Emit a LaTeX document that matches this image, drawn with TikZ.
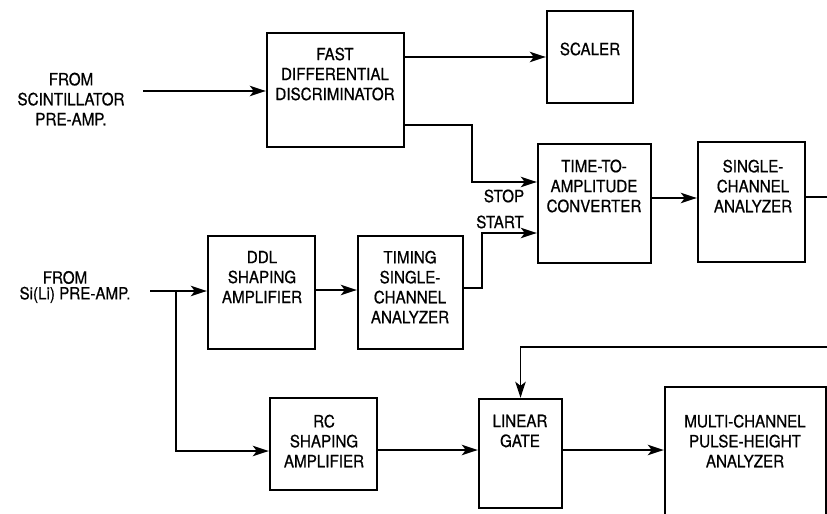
\documentclass[tikz,border=0pt]{standalone}
\usepackage{fontspec}
\setmainfont[FakeStretch=0.9,FakeBold=0.6]{TeX Gyre Heros}
\usepackage{tikz}
\usetikzlibrary{arrows.meta}
\tikzset{
  egyseg/.style={draw,line width=1.7pt,inner sep=0pt},
  szoveg/.style={align=center,inner sep=0pt},
  nyil/.style={-{Stealth[length=4mm,width=2.6mm,inset=1mm]},line width=1.3pt},
  vonal/.style={line width=1.3pt},
}

\begin{document}
\begin{tikzpicture}[font=\fontsize{12}{14.2}\selectfont]
  \clip (0,0) rectangle (20.675,-12.85);
  % boxes
  \node[egyseg,minimum width=3.425cm,minimum height=2.85cm] (fdd) at (8.3875,-2.25) {};
  \node[egyseg,minimum width=2.15cm,minimum height=2.3cm] (scaler) at (14.75,-1.425) {};
  \node[egyseg,minimum width=2.825cm,minimum height=2.975cm] (tac) at (14.8625,-5.0875) {};
  \node[egyseg,minimum width=2.675cm,minimum height=3.0cm] (sca) at (18.7875,-5.05) {};
  \node[egyseg,minimum width=2.675cm,minimum height=2.825cm] (ddl) at (6.5375,-7.3125) {};
  \node[egyseg,minimum width=2.625cm,minimum height=2.825cm] (tsca) at (10.2625,-7.3125) {};
  \node[egyseg,minimum width=2.675cm,minimum height=2.3cm] (rc) at (8.0875,-11.1) {};
  \node[egyseg,minimum width=2.075cm,minimum height=2.725cm] (gate) at (13.0125,-11.3375) {};
  \node[egyseg,minimum width=4.025cm,minimum height=4.0cm] (mca) at (18.6375,-11.675) {};
  % texts
  \node[szoveg] (fddt) at (8.375,-1.85) {FAST\\DIFFERENTIAL\\DISCRIMINATOR};
  \node[szoveg] (scalert) at (14.75,-1.225) {SCALER};
  \node[szoveg] (tact) at (14.85,-4.65) {TIME-TO-\\AMPLITUDE\\CONVERTER};
  \node[szoveg] (scat) at (18.825,-4.65) {SINGLE-\\CHANNEL\\ANALYZER};
  \node[szoveg] (ddlt) at (6.55,-6.925) {DDL\\SHAPING\\AMPLIFIER};
  \node[szoveg] (tscat) at (10.25,-7.175) {TIMING\\SINGLE-\\CHANNEL\\ANALYZER};
  \node[szoveg] (rct) at (8.1,-11.025) {RC\\SHAPING\\AMPLIFIER};
  \node[szoveg] (gatet) at (13.0,-10.775) {LINEAR\\GATE};
  \node[szoveg] (mcat) at (18.625,-11.025) {MULTI-CHANNEL\\PULSE-HEIGHT\\ANALYZER};
  \node[szoveg] (scint) at (1.775,-2.475) {FROM\\SCINTILLATOR\\PRE-AMP.};
  \node[szoveg] (sili) at (1.875,-7.175) {FROM\hspace*{0.5cm}\\[-3pt]Si(Li) PRE-AMP.};
  \node[szoveg] (stop) at (12.6,-4.9) {STOP};
  \node[szoveg] (start) at (12.5,-5.55) {START};
  % connectors
  \coordinate (scin) at (3.575,-2.275);
  \coordinate (siin) at (3.75,-7.275);
  \coordinate (elag) at (4.4,-7.275);
  \coordinate (ki) at (20.7,-4.925);
  \coordinate (vissza) at (20.7,-8.675);
  \draw[nyil] (scin) -- (scin -| fdd.west);
  \draw[nyil] (fdd.east |- scaler.west) -- (scaler.west);
  \draw[nyil] (fdd.east |- 0,-3.125) -- (11.8,-3.125) |- (tac.west |- 0,-4.55);
  \draw[nyil] (tsca.east |- 0,-7.2) -- (12.05,-7.2) |- (tac.west |- 0,-5.825);
  \draw[nyil] (tac.east |- 0,-4.95) -- (sca.west |- 0,-4.95);
  \draw[vonal] (sca.east |- ki) -- (ki);
  \draw[nyil] (siin) -- (siin -| ddl.west);
  \draw[nyil] (elag) |- (rc.west |- 0,-11.275);
  \draw[nyil] (ddl.east |- 0,-7.25) -- (tsca.west |- 0,-7.25);
  \draw[nyil] (rc.east |- 0,-11.25) -- (gate.west |- 0,-11.25);
  \draw[nyil] (gate.east |- 0,-11.25) -- (mca.west |- 0,-11.25);
  \draw[nyil] (vissza) -| (gate.north);
\end{tikzpicture}
\end{document}
